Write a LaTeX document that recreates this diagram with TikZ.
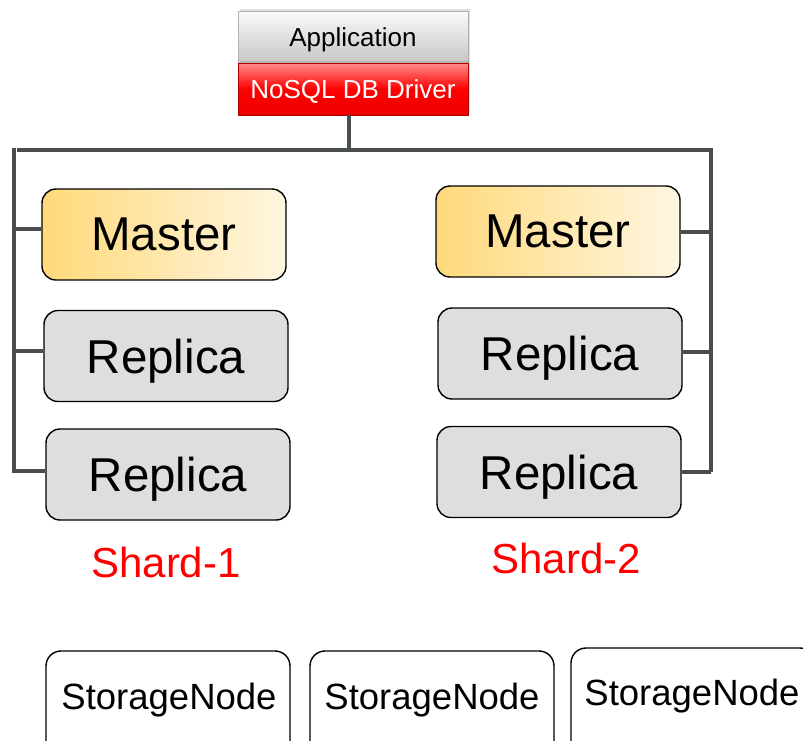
\documentclass[tikz,border=0pt]{standalone}
\usepackage{fontspec}
\setmainfont{Liberation Sans}
\usetikzlibrary{positioning,shadows}
\definecolor{bus}{HTML}{4A4D4D}
\definecolor{mastL}{HTML}{FFD97A}
\definecolor{mastR}{HTML}{FFF6E2}
\definecolor{repl}{HTML}{DEDEDE}
\definecolor{shard}{HTML}{FF0000}
\tikzset{
  rolebox/.style={draw=black, line width=1.4pt, rounded corners=14pt,
    minimum width=244pt, minimum height=91pt, inner sep=0pt, text depth=0pt,
    font=\fontsize{47.5}{52}\selectfont},
  masterbox/.style={rolebox, left color=mastL, right color=mastR},
  replicabox/.style={rolebox, fill=repl},
  storebox/.style={draw=black, line width=1.4pt, rounded corners=15pt,
    minimum width=244pt, minimum height=110pt, inner sep=0pt, fill=white},
  storetext/.style={font=\fontsize{36.5}{40}\selectfont, inner sep=0pt, text depth=0pt},
  shardlabel/.style={text=shard, font=\fontsize{42}{46}\selectfont, inner sep=0pt, text depth=0pt},
  busline/.style={draw=bus, line width=4pt},
  appbox/.style={minimum width=230pt, minimum height=52pt, inner sep=0pt, text depth=0pt,
    draw=gray!60, line width=0.6pt, top color=white!96!gray, bottom color=gray!45,
    drop shadow={shadow xshift=2pt, shadow yshift=2pt, opacity=0.25},
    font=\fontsize{26}{30}\selectfont},
  driverbox/.style={minimum width=230pt, minimum height=52pt, inner sep=0pt, text depth=0pt,
    draw=red!70!black, line width=0.6pt, top color=red!45, bottom color=red!92!black,
    middle color=red,
    drop shadow={shadow xshift=2pt, shadow yshift=2pt, opacity=0.25},
    text=white, font=\fontsize{26}{30}\selectfont},
}
\begin{document}
\begin{tikzpicture}[x=1pt,y=-1pt]
\useasboundingbox (0,0) rectangle (803,740);
\clip (0,0) rectangle (803,740);

% client stack
\node[appbox] (app) at (353,37) {Application};
\node[driverbox] (drv) at (353,89) {NoSQL DB Driver};

% shard 1
\node[masterbox]  (m1) at (164,234.5) {Master};
\node[replicabox] (r1a) at (166,356) {Replica};
\node[replicabox] (r1b) at (168,474.5) {Replica};
\node[shardlabel] (s1) at (166,562) {Shard-1};

% shard 2
\node[masterbox]  (m2) at (558,231.5) {Master};
\node[replicabox] (r2a) at (560,353.5) {Replica};
\node[replicabox] (r2b) at (559,472) {Replica};
\node[shardlabel] (s2) at (566,558) {Shard-2};

% bus coordinates
\coordinate (drvdown) at (349,150);
\coordinate (tl) at (14,150);
\coordinate (tr) at (711,150);
\coordinate (lm) at (14,229);
\coordinate (lra) at (14,351);
\coordinate (lrb) at (14,471);
\coordinate (rm) at (711,232);
\coordinate (rra) at (711,352);
\coordinate (rrb) at (711,472);

% bus wiring
\draw[busline] (drv.south -| drvdown) -- (drvdown);
\draw[busline, line cap=rect] (lrb) -- (tl);
\draw[busline] (17,150) -- (tr) -- (rrb);
\draw[busline] (lm) -- (m1.west |- lm);
\draw[busline] (lra) -- (r1a.west |- lra);
\draw[busline] (lrb) -- (r1b.west |- lrb);
\draw[busline] (rm) -- (m2.east |- rm);
\draw[busline] (rra) -- (r2a.east |- rra);
\draw[busline] (rrb) -- (r2b.east |- rrb);

% storage nodes
\node[storebox] (sn1) at (168,706) {};
\node[storebox] (sn2) at (432,706) {};
\node[storebox] (sn3) at (693,703) {};
\node[storetext] at (169,696) {StorageNode};
\node[storetext] at (432,696) {StorageNode};
\node[storetext] at (692,692) {StorageNode};
\end{tikzpicture}
\end{document}
